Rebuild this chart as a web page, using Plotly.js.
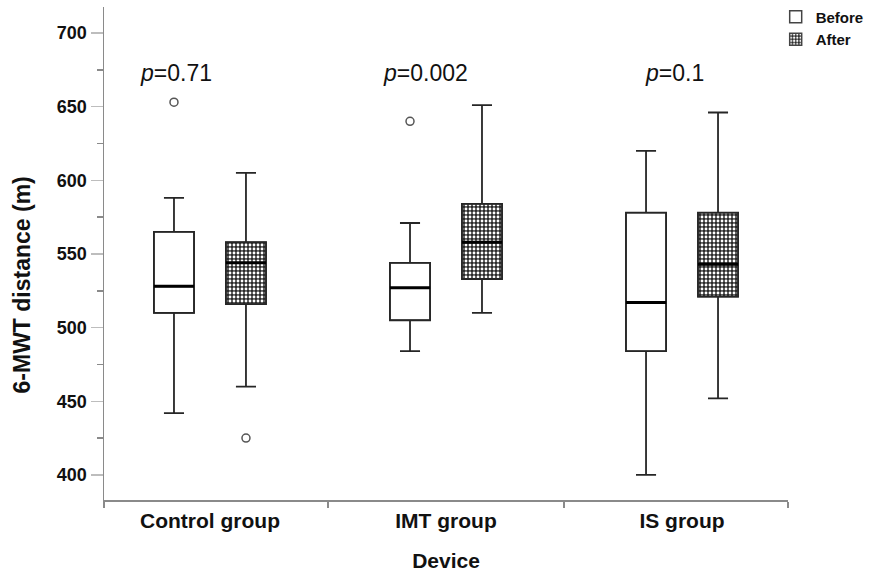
<!DOCTYPE html>
<html>
<head>
<meta charset="utf-8">
<script src="https://cdn.plot.ly/plotly-3.0.1.min.js"></script>
<style>html,body{margin:0;padding:0;background:#fff;}#chart{width:873px;height:575px;}</style>
</head>
<body>
<div id="chart"></div>
<script>
// ---- data ----
const categories = ['Control group', 'IMT group', 'IS group'];

const beforeLowerWhisker = [442, 484, 400];
const beforeQ1           = [510, 505, 484];
const beforeMedian       = [528, 527, 517];
const beforeQ3           = [565, 544, 578];
const beforeUpperWhisker = [588, 571, 620];

const afterLowerWhisker  = [460, 510, 452];
const afterQ1            = [516, 533, 521];
const afterMedian        = [544, 558, 543];
const afterQ3            = [558, 584, 578];
const afterUpperWhisker  = [605, 651, 646];

const beforeOutlierGroup = [0, 1];
const beforeOutlierValue = [653, 640];
const afterOutlierGroup  = [0];
const afterOutlierValue  = [425];

const pValues = ['0.71', '0.002', '0.1'];

// ---- styling / geometry ----
const OFFSET = 0.1525;     // half distance between paired boxes (category units)
const BOXW = 0.17;         // box width (category units)
const pLabelShift = [-0.144, -0.085, -0.03];
const FONT = 'Liberation Sans, Arial, sans-serif';

const idx = categories.map((c, i) => i);
const xBefore = idx.map(i => i - OFFSET);
const xAfter = idx.map(i => i + OFFSET);

const boxLine = {color: '#262626', width: 1.8};

const traces = [
  // box bodies (legend carriers)
  {type: 'bar', name: 'Before', x: xBefore, base: beforeQ1,
   y: beforeQ3.map((v, i) => v - beforeQ1[i]), width: BOXW,
   marker: {color: '#ffffff', line: {color: '#444', width: 1.5}}, hoverinfo: 'skip'},
  {type: 'bar', name: 'After', x: xAfter, base: afterQ1,
   y: afterQ3.map((v, i) => v - afterQ1[i]), width: BOXW,
   marker: {color: '#ffffff', line: {color: '#444', width: 1.5},
            pattern: {shape: '.', fgcolor: '#ffffff', bgcolor: '#2a2a2a', size: 4, solidity: 0.4}},
   hoverinfo: 'skip'},
  // whiskers and outlines
  {type: 'box', x: xBefore, q1: beforeQ1, median: beforeMedian, q3: beforeQ3,
   lowerfence: beforeLowerWhisker, upperfence: beforeUpperWhisker, width: BOXW,
   whiskerwidth: 0.5, fillcolor: 'rgba(0,0,0,0)', line: boxLine, showlegend: false, hoverinfo: 'skip'},
  {type: 'box', x: xAfter, q1: afterQ1, median: afterMedian, q3: afterQ3,
   lowerfence: afterLowerWhisker, upperfence: afterUpperWhisker, width: BOXW,
   whiskerwidth: 0.5, fillcolor: 'rgba(0,0,0,0)', line: boxLine, showlegend: false, hoverinfo: 'skip'},
  // thick median lines
  {type: 'box', x: xBefore, q1: beforeMedian, median: beforeMedian, q3: beforeMedian,
   lowerfence: beforeMedian, upperfence: beforeMedian, width: BOXW, whiskerwidth: 0,
   fillcolor: 'rgba(0,0,0,0)', line: {color: '#000', width: 3}, showlegend: false, hoverinfo: 'skip'},
  {type: 'box', x: xAfter, q1: afterMedian, median: afterMedian, q3: afterMedian,
   lowerfence: afterMedian, upperfence: afterMedian, width: BOXW, whiskerwidth: 0,
   fillcolor: 'rgba(0,0,0,0)', line: {color: '#000', width: 3}, showlegend: false, hoverinfo: 'skip'},
  // outliers
  {type: 'scatter', mode: 'markers', x: beforeOutlierGroup.map(i => i - OFFSET), y: beforeOutlierValue,
   marker: {symbol: 'circle-open', size: 8, color: '#555', line: {width: 1.5}}, showlegend: false, hoverinfo: 'skip'},
  {type: 'scatter', mode: 'markers', x: afterOutlierGroup.map(i => i + OFFSET), y: afterOutlierValue,
   marker: {symbol: 'circle-open', size: 8, color: '#555', line: {width: 1.5}}, showlegend: false, hoverinfo: 'skip'}
];

const xLo = -0.449, xHi = 2.449;

const annotations = pValues.map((p, i) => ({
  x: i + pLabelShift[i], y: 673, xref: 'x', yref: 'y', showarrow: false,
  text: '<i>p</i>=' + p, font: {family: FONT, size: 23, color: '#111'},
  xanchor: 'center', yanchor: 'middle'
}));
annotations.push({
  text: '6-MWT distance (m)', xref: 'paper', yref: 'paper', x: -0.12, y: 0.437,
  textangle: -90, showarrow: false, xanchor: 'center', yanchor: 'middle',
  font: {family: FONT, size: 23, color: '#111', weight: 'bold'}
});

const layout = {
  width: 873, height: 575,
  margin: {l: 104, r: 85, t: 7, b: 75, autoexpand: false},
  paper_bgcolor: '#fff', plot_bgcolor: '#fff',
  barmode: 'overlay',
  showlegend: true,
  legend: {x: 0.982, y: 1.013, xanchor: 'left', yanchor: 'top', bgcolor: 'rgba(0,0,0,0)',
           font: {family: FONT, size: 15, color: '#111', weight: 'bold'}, tracegroupgap: 0},
  xaxis: {
    range: [xLo, xHi], showgrid: false, zeroline: false,
    showline: true, linecolor: '#8a8a8a', linewidth: 1.5,
    tickmode: 'array', tickvals: idx, ticktext: categories, ticks: '',
    ticklabelstandoff: 1,
    tickfont: {family: FONT, size: 21, color: '#111', weight: 'bold'},
    minor: {tickmode: 'array', tickvals: [xLo, 0.5, 1.5, xHi], ticks: 'outside', ticklen: 6,
            tickcolor: '#8a8a8a', tickwidth: 1.5, showgrid: false},
    title: {text: 'Device', standoff: 22, font: {family: FONT, size: 21, color: '#111', weight: 'bold'}}
  },
  yaxis: {
    range: [383, 717.6], showgrid: false, zeroline: false,
    showline: true, linecolor: '#8a8a8a', linewidth: 1.5,
    tickmode: 'linear', tick0: 400, dtick: 50, ticks: 'outside', ticklen: 12,
    tickcolor: '#bdbdbd', tickwidth: 1.5,
    tickfont: {family: FONT, size: 18, color: '#111', weight: 'bold'},
    minor: {dtick: 25, tick0: 400, ticks: 'outside', ticklen: 6, tickcolor: '#8a8a8a', tickwidth: 1.5, showgrid: false}
  },
  annotations: annotations
};

Plotly.newPlot('chart', traces, layout, {displayModeBar: false, staticPlot: true});
</script>
</body>
</html>
